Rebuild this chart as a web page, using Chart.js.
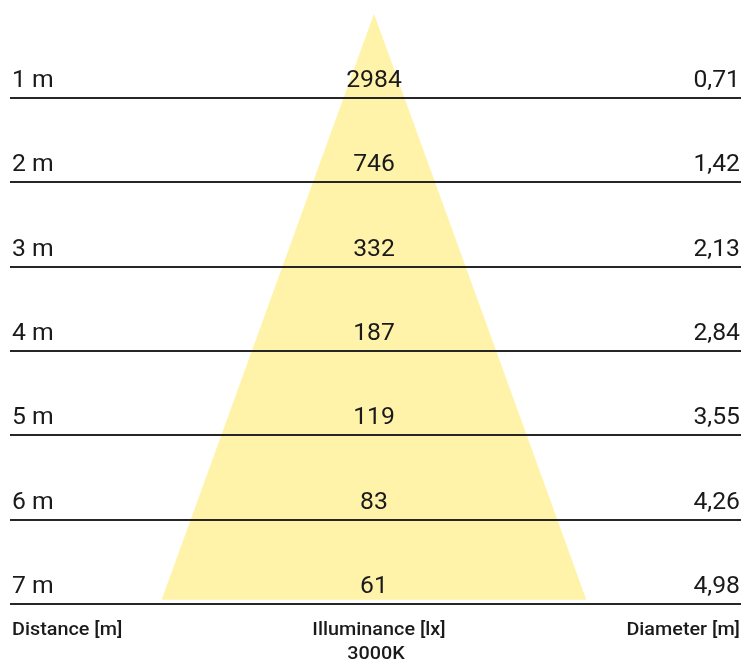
<!DOCTYPE html>
<html>
<head>
<meta charset="utf-8">
<script src="https://cdn.jsdelivr.net/npm/chart.js@4.4.1/dist/chart.umd.min.js"></script>
<style>
html,body{margin:0;padding:0;background:#fff;}
#wrap{width:742px;height:662px;position:relative;}
</style>
</head>
<body>
<div id="wrap"><canvas id="c" width="742" height="662"></canvas></div>
<script>
// ---- data ----
const distances = [1, 2, 3, 4, 5, 6, 7];              // m
const distanceLabels = ["1 m", "2 m", "3 m", "4 m", "5 m", "6 m", "7 m"];
const illuminance = [2984, 746, 332, 187, 119, 83, 61]; // lx
const diameters = ["0,71", "1,42", "2,13", "2,84", "3,55", "4,26", "4,98"]; // m
const diameterValues = [0.71, 1.42, 2.13, 2.84, 3.55, 4.26, 4.98];
const coneEnd = 6.95; // where the light cone fill stops (m)
const axisTitles = ["Distance [m]", "Illuminance [lx]", "Diameter [m]"];
const colourTemp = "3000K";

// cone: apex at 0, widening with the diameter ratio
const ratio = diameterValues[6] / distances[6];
const half = ratio * coneEnd / 2;
const conePoints = [
  {x: -half, y: coneEnd},
  {x: 0, y: 0},
  {x: half, y: coneEnd}
];

const TEXT = '#1a1a1a';

function drawText(ctx, str, x, y, align, sx) {
  const w = ctx.measureText(str).width * sx;
  let left = x;
  if (align === 'center') left = x - w / 2;
  else if (align === 'right') left = x - w;
  ctx.save();
  ctx.translate(left, y);
  ctx.scale(sx, 1);
  ctx.textAlign = 'left';
  ctx.fillText(str, 0, 0);
  ctx.restore();
}

const tablePlugin = {
  id: 'table',
  afterDatasetsDraw(chart) {
    const ctx = chart.ctx;
    const ys = chart.scales.y, xs = chart.scales.x;
    const cx = xs.getPixelForValue(0);
    ctx.save();
    // horizontal rule lines
    ctx.strokeStyle = '#262626';
    ctx.lineWidth = 2;
    distances.forEach(d => {
      const y = Math.round(ys.getPixelForValue(d));
      ctx.beginPath();
      ctx.moveTo(10, y);
      ctx.lineTo(741, y);
      ctx.stroke();
    });
    // row labels
    ctx.fillStyle = TEXT;
    ctx.font = '400 24px Roboto';
    ctx.textBaseline = 'alphabetic';
    const rs = 1.03;
    distances.forEach((d, i) => {
      const y = ys.getPixelForValue(d) - 11;
      drawText(ctx, distanceLabels[i], 12, y, 'left', rs);
      drawText(ctx, String(illuminance[i]), cx, y, 'center', rs);
      drawText(ctx, diameters[i], 740, y, 'right', rs);
    });
    // column titles
    ctx.font = '500 18px Roboto';
    const bs = 1.1;
    const ty = ys.getPixelForValue(distances[6]) + 31;
    drawText(ctx, axisTitles[0], 12, ty, 'left', bs);
    drawText(ctx, axisTitles[1], cx + 5, ty, 'center', bs);
    drawText(ctx, colourTemp, cx + 2, ty + 24, 'center', bs);
    drawText(ctx, axisTitles[2], 740, ty, 'right', bs);
    ctx.restore();
  }
};

new Chart(document.getElementById('c'), {
  type: 'line',
  data: {
    datasets: [{
      data: conePoints,
      parsing: false,
      borderWidth: 0,
      pointRadius: 0,
      backgroundColor: 'rgb(255,243,170)',
      fill: {value: coneEnd},
      tension: 0
    }]
  },
  options: {
    responsive: false,
    animation: false,
    devicePixelRatio: 1,
    layout: {padding: 0},
    plugins: {legend: {display: false}, tooltip: {enabled: false}},
    scales: {
      x: {type: 'linear', display: false, min: -4.354, max: 4.284},
      y: {type: 'linear', display: false, reverse: true, min: -0.1625, max: 7.688}
    }
  },
  plugins: [tablePlugin]
});
</script>
</body>
</html>
